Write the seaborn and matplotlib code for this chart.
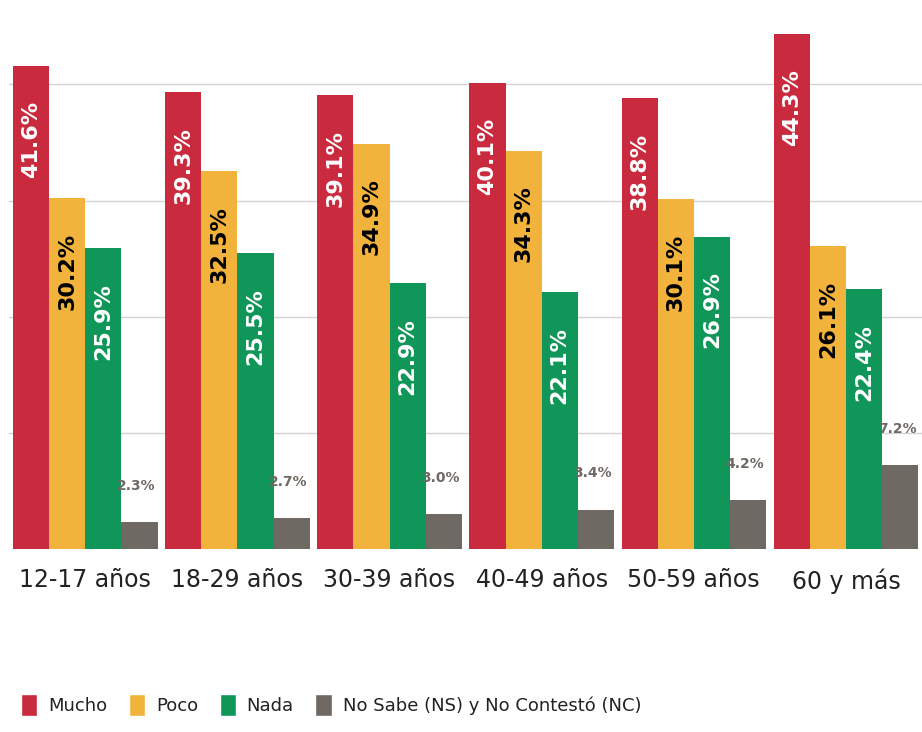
import pandas as pd
import seaborn as sns
import matplotlib.pyplot as plt
from matplotlib.patches import Patch

# datos del grafico
grupos = ['12-17 años', '18-29 años', '30-39 años', '40-49 años', '50-59 años', '60 y más']
respuestas = ['Mucho', 'Poco', 'Nada', 'No Sabe (NS) y No Contestó (NC)']
mucho = [41.6, 39.3, 39.1, 40.1, 38.8, 44.3]
poco = [30.2, 32.5, 34.9, 34.3, 30.1, 26.1]
nada = [25.9, 25.5, 22.9, 22.1, 26.9, 22.4]
ns_nc = [2.3, 2.7, 3.0, 3.4, 4.2, 7.2]
colores = ['#C92A3E', '#F2B33D', '#11965A', '#6E6963']
color_texto = ['white', 'black', 'white', '#6E6963']

df = pd.DataFrame({
    'grupo': grupos * 4,
    'respuesta': [r for r in respuestas for _ in grupos],
    'valor': mucho + poco + nada + ns_nc,
})

sns.set_style('white')
plt.rcParams['font.family'] = ['DejaVu Sans']

fig = plt.figure(figsize=(9.22, 7.32), dpi=100)
ax = fig.add_axes([0.01, 0.25, 0.99, 0.73])

sns.barplot(data=df, x='grupo', y='valor', hue='respuesta', palette=colores,
            width=0.95, order=grupos, hue_order=respuestas, ax=ax, legend=False,
            saturation=1, edgecolor='none', linewidth=0)

# etiquetas de valor
for i, cont in enumerate(ax.containers):
    for bar, v in zip(cont, [mucho, poco, nada, ns_nc][i]):
        x = bar.get_x() + bar.get_width() / 2
        if i < 3:
            ax.text(x, v - 3.0, f'{v}%', rotation=90, ha='center', va='top',
                    color=color_texto[i], fontsize=16, fontweight='bold')
        else:
            ax.text(x - 0.02, v + 2.5, f'{v}%', ha='center', va='bottom',
                    color=color_texto[i], fontsize=10, fontweight='bold')

ax.set_ylim(0, 46)
ax.set_yticks([10, 20, 30, 40])
ax.yaxis.grid(True, color='#D3D3D3', linewidth=1.0)
ax.set_axisbelow(True)
ax.tick_params(axis='y', left=False, labelleft=False)
ax.tick_params(axis='x', length=0, labelsize=17, pad=14, colors='#222222')
ax.set_xlabel('')
ax.set_ylabel('')
sns.despine(ax=ax, left=True, bottom=True)

handles = [Patch(facecolor=c, label=r) for c, r in zip(colores, respuestas)]
fig.legend(handles=handles, loc='lower left', bbox_to_anchor=(0.005, 0.0), ncol=4,
           frameon=False, fontsize=13, handlelength=0.9, handleheight=1.5,
           handletextpad=0.6, columnspacing=1.2, labelcolor='#222222')

fig.savefig('out.png', dpi=100, facecolor='white')
